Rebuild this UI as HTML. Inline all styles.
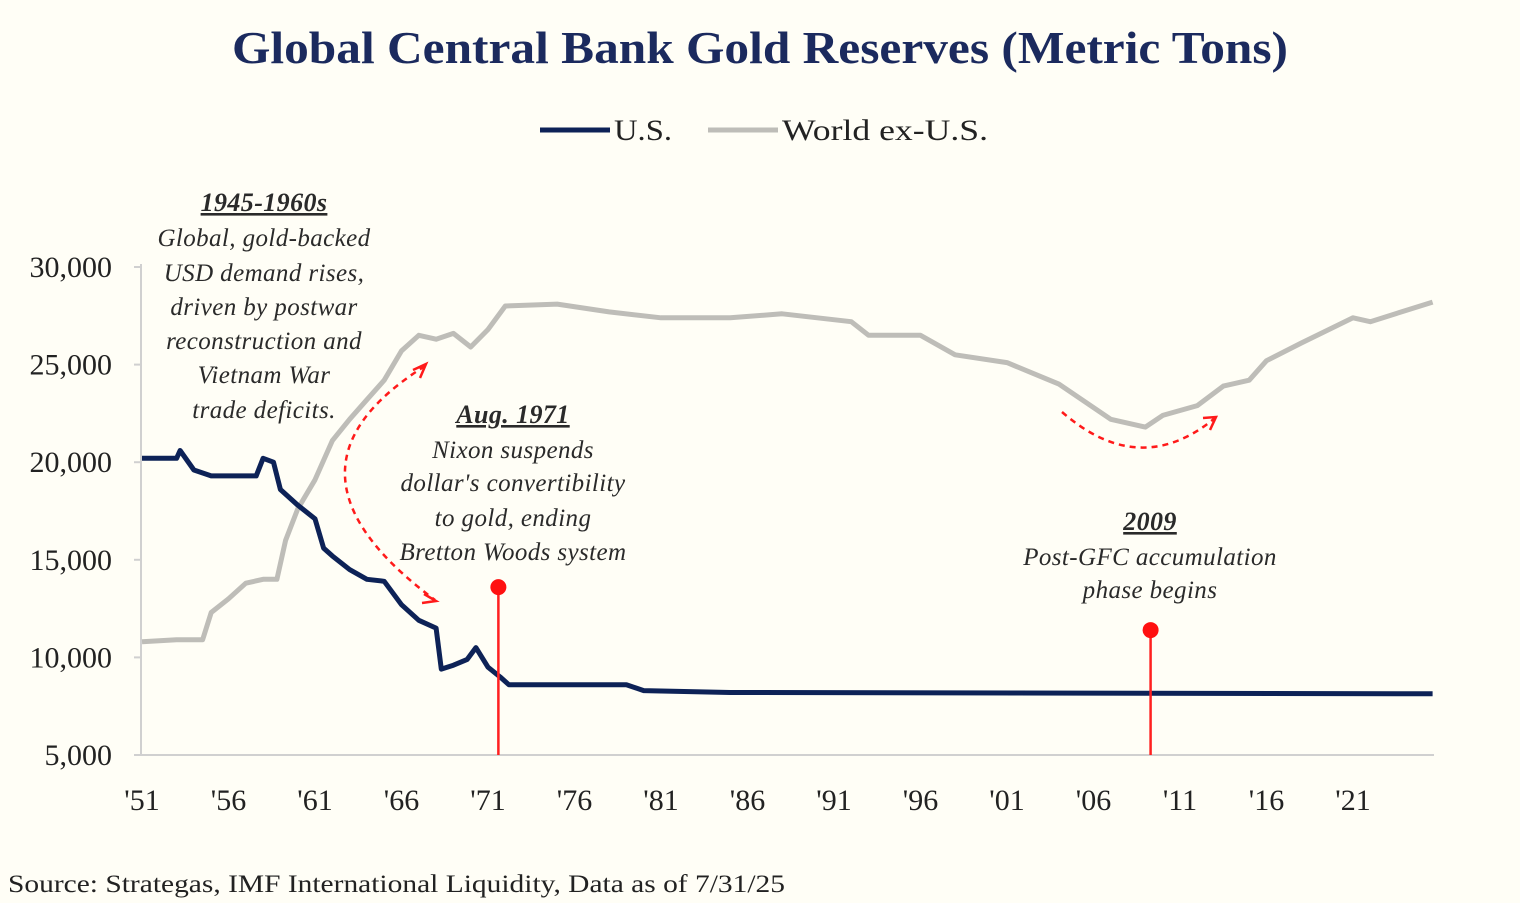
<!DOCTYPE html>
<html><head><meta charset="utf-8"><style>
body{margin:0;background:#fffef6;}
svg{display:block;font-family:"Liberation Serif",serif;}
</style></head><body>
<svg width="1520" height="903" viewBox="0 0 1520 903">
<rect width="1520" height="903" fill="#fffef6"/>
<text x="232" y="63" textLength="1056" lengthAdjust="spacingAndGlyphs" font-size="46" font-weight="bold" fill="#1b2a5e">Global Central Bank Gold Reserves (Metric Tons)</text>
<g>
<line x1="540" y1="130" x2="610" y2="130" stroke="#0d2257" stroke-width="5"/>
<text x="614" y="140" textLength="58" lengthAdjust="spacingAndGlyphs" font-size="30" fill="#222">U.S.</text>
<line x1="708" y1="130" x2="778" y2="130" stroke="#bebdb8" stroke-width="5"/>
<text x="782" y="140" textLength="206" lengthAdjust="spacingAndGlyphs" font-size="30" fill="#222">World ex-U.S.</text>
</g>
<g id="axes"></g>
<g id="series"></g>
<g font-style="italic" font-size="25" fill="#2a2a2a" text-anchor="middle" letter-spacing="0.4">
<text x="264" y="211" font-weight="bold" text-decoration="underline" font-size="26">1945-1960s</text>
<text x="264" y="246">Global, gold-backed</text>
<text x="264" y="281">USD demand rises,</text>
<text x="264" y="315">driven by postwar</text>
<text x="264" y="349">reconstruction and</text>
<text x="264" y="383">Vietnam War</text>
<text x="264" y="418">trade deficits.</text>
<text x="513" y="423" font-weight="bold" text-decoration="underline" font-size="26">Aug. 1971</text>
<text x="513" y="458">Nixon suspends</text>
<text x="513" y="491">dollar's convertibility</text>
<text x="513" y="526">to gold, ending</text>
<text x="513" y="560">Bretton Woods system</text>
<text x="1150" y="530" font-weight="bold" text-decoration="underline" font-size="26">2009</text>
<text x="1150" y="565">Post-GFC accumulation</text>
<text x="1150" y="598">phase begins</text>
</g>
<g fill="none" stroke="#ff1a1a" stroke-width="2.5" stroke-dasharray="6,5">
<path d="M425,366 Q260,470 435,600"/>
<path d="M1062,412 Q1140,480 1215,418"/>
</g>
<g fill="none" stroke="#ff1a1a" stroke-width="2.5">
<path d="M413,370 L426,364 L420,378"/><path d="M424,594 L436,601 L422,603"/><path d="M1203,418 L1216,417 L1210,430"/>
</g>
<text x="8" y="892" textLength="777" lengthAdjust="spacingAndGlyphs" font-size="25" fill="#222">Source: Strategas, IMF International Liquidity, Data as of 7/31/25</text>
<script>
const usYears=[1951,1953,1953.2,1954,1955,1957.6,1958,1958.6,1959,1960,1961,1961.5,1962,1963,1964,1965,1966,1967,1968,1968.3,1969,1969.8,1970.3,1971,1971.7,1972.2,1978,1979,1980,1985,2025.6];
const usValues=[20200,20200,20600,19600,19300,19300,20200,20000,18600,17800,17100,15600,15200,14500,14000,13900,12700,11900,11500,9400,9600,9900,10500,9500,9000,8600,8600,8600,8300,8200,8133];
const wYears=[1951,1953,1954.5,1955,1956,1957,1958,1958.8,1959.3,1960,1961,1962,1963,1964,1965,1966,1967,1968,1969,1970,1971,1972,1975,1978,1981,1985,1988,1992,1993,1996,1998,2001,2004,2007,2009,2010,2012,2013.5,2015,2016,2018,2021,2022,2025.6];
const wValues=[10800,10900,10900,12300,13000,13800,14000,14000,16000,17600,19100,21100,22200,23200,24200,25700,26500,26300,26600,25900,26800,28000,28100,27700,27400,27400,27600,27200,26500,26500,25500,25100,24000,22200,21800,22400,22900,23900,24200,25200,26100,27400,27200,28200];
const yTicks=[5000,10000,15000,20000,25000,30000];
const xTickYears=[1951,1956,1961,1966,1971,1976,1981,1986,1991,1996,2001,2006,2011,2016,2021];
const events=[{year:1971.6,value:13600},{year:2009.3,value:11400}];
const NS='http://www.w3.org/2000/svg';
const X=y=>142+(y-1951)*17.3;
const Y=v=>755-(v-5000)*0.019520;
const axes=document.getElementById('axes'),series=document.getElementById('series');
function mk(tag,attrs,parent){const e=document.createElementNS(NS,tag);for(const k in attrs)e.setAttribute(k,attrs[k]);parent.appendChild(e);return e;}
let ax=mk('line',{x1:141,y1:Y(30000)-3,x2:141,y2:755,stroke:'#d0d0d0','stroke-width':2},axes);


let bx=mk('line',{x1:141,y1:755,x2:1434,y2:755,stroke:'#d0d0d0','stroke-width':2},axes);


yTicks.forEach(v=>{
 const t=mk('line',{x1:134,x2:141,y1:Y(v),y2:Y(v),stroke:'#d0d0d0','stroke-width':2},axes);
 const l=mk('text',{x:112,y:Y(v)+10,'text-anchor':'end','font-size':30,fill:'#222'},axes);
 l.textContent=v.toLocaleString('en-US');
 
 
});
xTickYears.forEach(y=>{
 const l=mk('text',{x:X(y),y:810,'text-anchor':'middle','font-size':30,fill:'#222'},axes);
 l.textContent="'"+String(y%100).padStart(2,'0');
 
 
});
const pts=(ys,vs)=>ys.map((y,i)=>X(y).toFixed(1)+','+Y(vs[i]).toFixed(1)).join(' ');
const w=mk('polyline',{points:pts(wYears,wValues),fill:'none',stroke:'#bebdb8','stroke-width':5,'stroke-linejoin':'round'},series);


const u=mk('polyline',{points:pts(usYears,usValues),fill:'none',stroke:'#0d2257','stroke-width':5,'stroke-linejoin':'round'},series);


events.forEach(ev=>{
 const s=mk('line',{x1:X(ev.year),x2:X(ev.year),y1:Y(ev.value),y2:755,stroke:'#ff2020','stroke-width':2.5},series);
 
 
 const c=mk('circle',{cx:X(ev.year),cy:Y(ev.value),r:8,fill:'#ff1010'},series);
 
 
});
</script>
</svg>
</body></html>
